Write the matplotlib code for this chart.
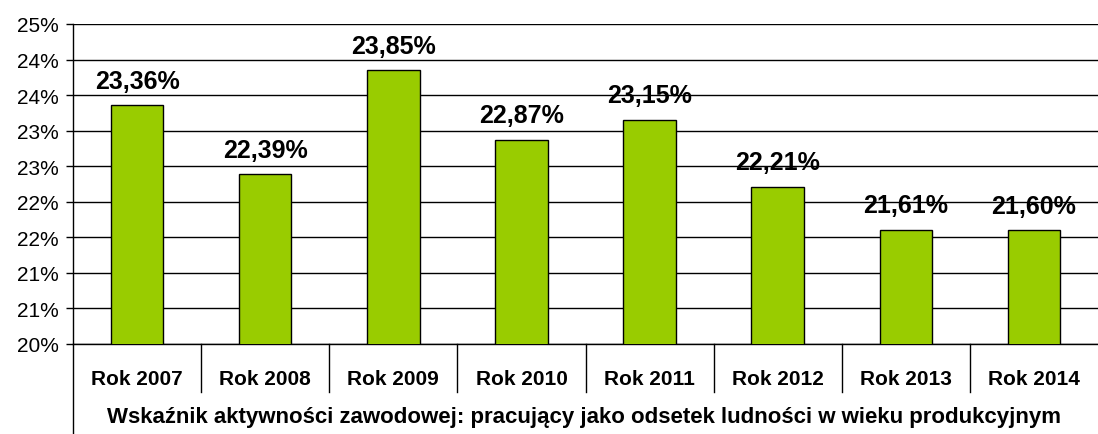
import numpy as np
import matplotlib.pyplot as plt
from matplotlib.ticker import FuncFormatter
import matplotlib.transforms as mtransforms

plt.rcParams['font.family'] = ['Liberation Sans', 'DejaVu Sans']

# data
years = ['Rok 2007', 'Rok 2008', 'Rok 2009', 'Rok 2010',
         'Rok 2011', 'Rok 2012', 'Rok 2013', 'Rok 2014']
values = [23.36, 22.39, 23.85, 22.87, 23.15, 22.21, 21.61, 21.60]
title_x = 'Wskaźnik aktywności zawodowej: pracujący jako odsetek ludności w wieku produkcyjnym'

fig = plt.figure(figsize=(10.98, 4.35), dpi=100)
ax = fig.add_axes([73 / 1098, 1 - 345 / 435, 1 - 73 / 1098, 320 / 435])

x = np.arange(len(years))
ax.bar(x, values, width=0.41, color='#99cc00', edgecolor='black', linewidth=1, zorder=3)

ax.set_xlim(-0.5, len(years) - 0.5)
ax.set_ylim(20, 24.5)
ax.set_yticks(np.arange(20, 24.51, 0.5))
ax.yaxis.set_major_formatter(FuncFormatter(lambda v, p: '%d%%' % int(np.floor(v + 0.5))))
ax.grid(axis='y', color='black', linewidth=1, zorder=0)
ax.tick_params(axis='y', labelsize=15, length=5, width=1, direction='out', pad=5)

ax.set_xticks(x)
ax.set_xticklabels(years, fontsize=15, fontweight='bold')
ax.tick_params(axis='x', length=0, pad=18)

for s in ['top', 'right']:
    ax.spines[s].set_visible(False)
ax.spines['left'].set_linewidth(1)
ax.spines['bottom'].set_linewidth(1)

# value labels
for xi, v in zip(x, values):
    ax.annotate(('%.2f%%' % v).replace('.', ','), (xi, v), xytext=(0, 9),
                textcoords='offset points', ha='center', va='bottom',
                fontsize=18, fontweight='bold')

# category separators and extended left line
trans = mtransforms.blended_transform_factory(ax.transData, ax.transAxes)
for b in np.arange(0.5, len(years) - 1, 1.0):
    ax.plot([b, b], [0, -48 / 320], color='black', lw=1, transform=trans, clip_on=False)
ax.plot([0, 0], [0, -92 / 320], color='black', lw=1, transform=ax.transAxes, clip_on=False)

fig.text(0.532, 1 - 418 / 435, title_x, ha='center', va='center',
         fontsize=16, fontweight='bold')

fig.savefig('out.png', dpi=100)
